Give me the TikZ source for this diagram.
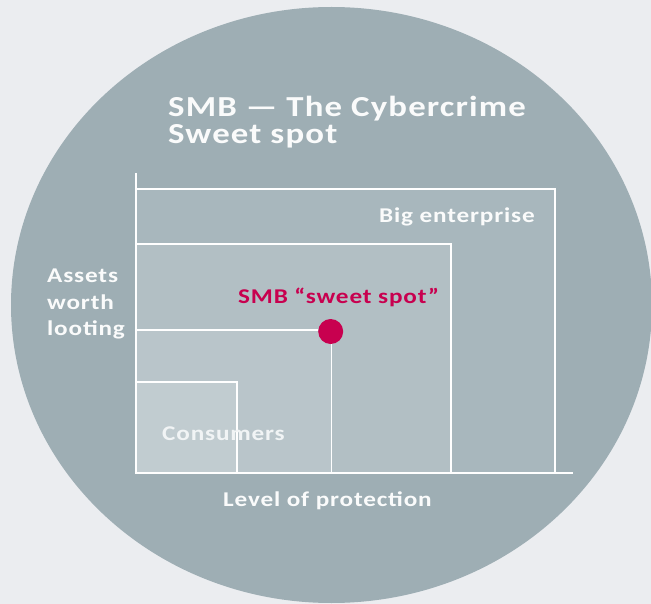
\documentclass[tikz,border=0pt]{standalone}
\usepackage{fontspec}
\setmainfont{Carlito}
\newfontfamily\lblfont{Carlito}[FakeStretch=1.2,LetterSpace=4]
\definecolor{bgc}{HTML}{EBEDF0}
\definecolor{circc}{HTML}{9EAEB4}
\definecolor{bigc}{HTML}{A8B7BD}
\definecolor{smbc}{HTML}{B2BFC4}
\definecolor{innc}{HTML}{B9C5CA}
\definecolor{conc}{HTML}{C1CCD0}
\definecolor{redc}{HTML}{C8004F}
\definecolor{txtc}{HTML}{FAFBFB}
\begin{document}
\begin{tikzpicture}[x=1pt,y=-1pt,
  zone/.style={draw=white,line width=1.6pt},
  lbl/.style={anchor=base west,inner sep=0pt,text=txtc,font=\lblfont\bfseries\fontsize{21}{24}\selectfont},
  ttl/.style={anchor=base west,inner sep=0pt,text=txtc,font=\lblfont\bfseries\fontsize{29}{33}\selectfont},
  axis/.style={draw=white,line width=2.8pt},
  guide/.style={draw=white,line width=1.6pt}]
\fill[bgc] (0,0) rectangle (651,604);
\useasboundingbox (0,0) rectangle (651,604);
\fill[circc] (331.5,305) ellipse [x radius=320.5, y radius=298];
% zones
\path[zone,fill=bigc] (136,189) rectangle (555,473);
\path[zone,fill=smbc] (136,244) rectangle (451,473);
\path[zone,fill=innc,draw=none] (136,330) rectangle (331,473);
\path[zone,fill=conc] (136,382) rectangle (237,473);
% guides
\node[circle,fill=redc,minimum size=25pt,inner sep=0pt] (dot) at (330.7,331.5) {};
\coordinate (gl) at (136,330);
\coordinate (gb) at (331.5,473);
\draw[guide] (gl) -- (dot.west |- gl);
\draw[guide] (dot.south -| gb) -- (gb);
% axes
\coordinate (ytop) at (136,173);
\coordinate (orig) at (136,473);
\coordinate (xend) at (573,473);
\draw[axis] (ytop) -- (orig) -- (xend);
% texts
\node[ttl] (t1) at (168,117) {SMB — The Cybercrime};
\node[ttl] (t2) at (168,144) {Sweet spot};
\node[lbl] (big) at (379,223) {Big enterprise};
\node[lbl,text=redc] (smb) at (238,304) {SMB “sweet spot”};
\node[lbl,text=txtc!85!conc] (cons) at (162,440) {Consumers};
\node[lbl] (a1) at (47,283) {Assets};
\node[lbl] (a2) at (47,309) {worth};
\node[lbl] (a3) at (47,335) {looting};
\node[lbl] (lev) at (223,506) {Level of protection};
\end{tikzpicture}
\end{document}
